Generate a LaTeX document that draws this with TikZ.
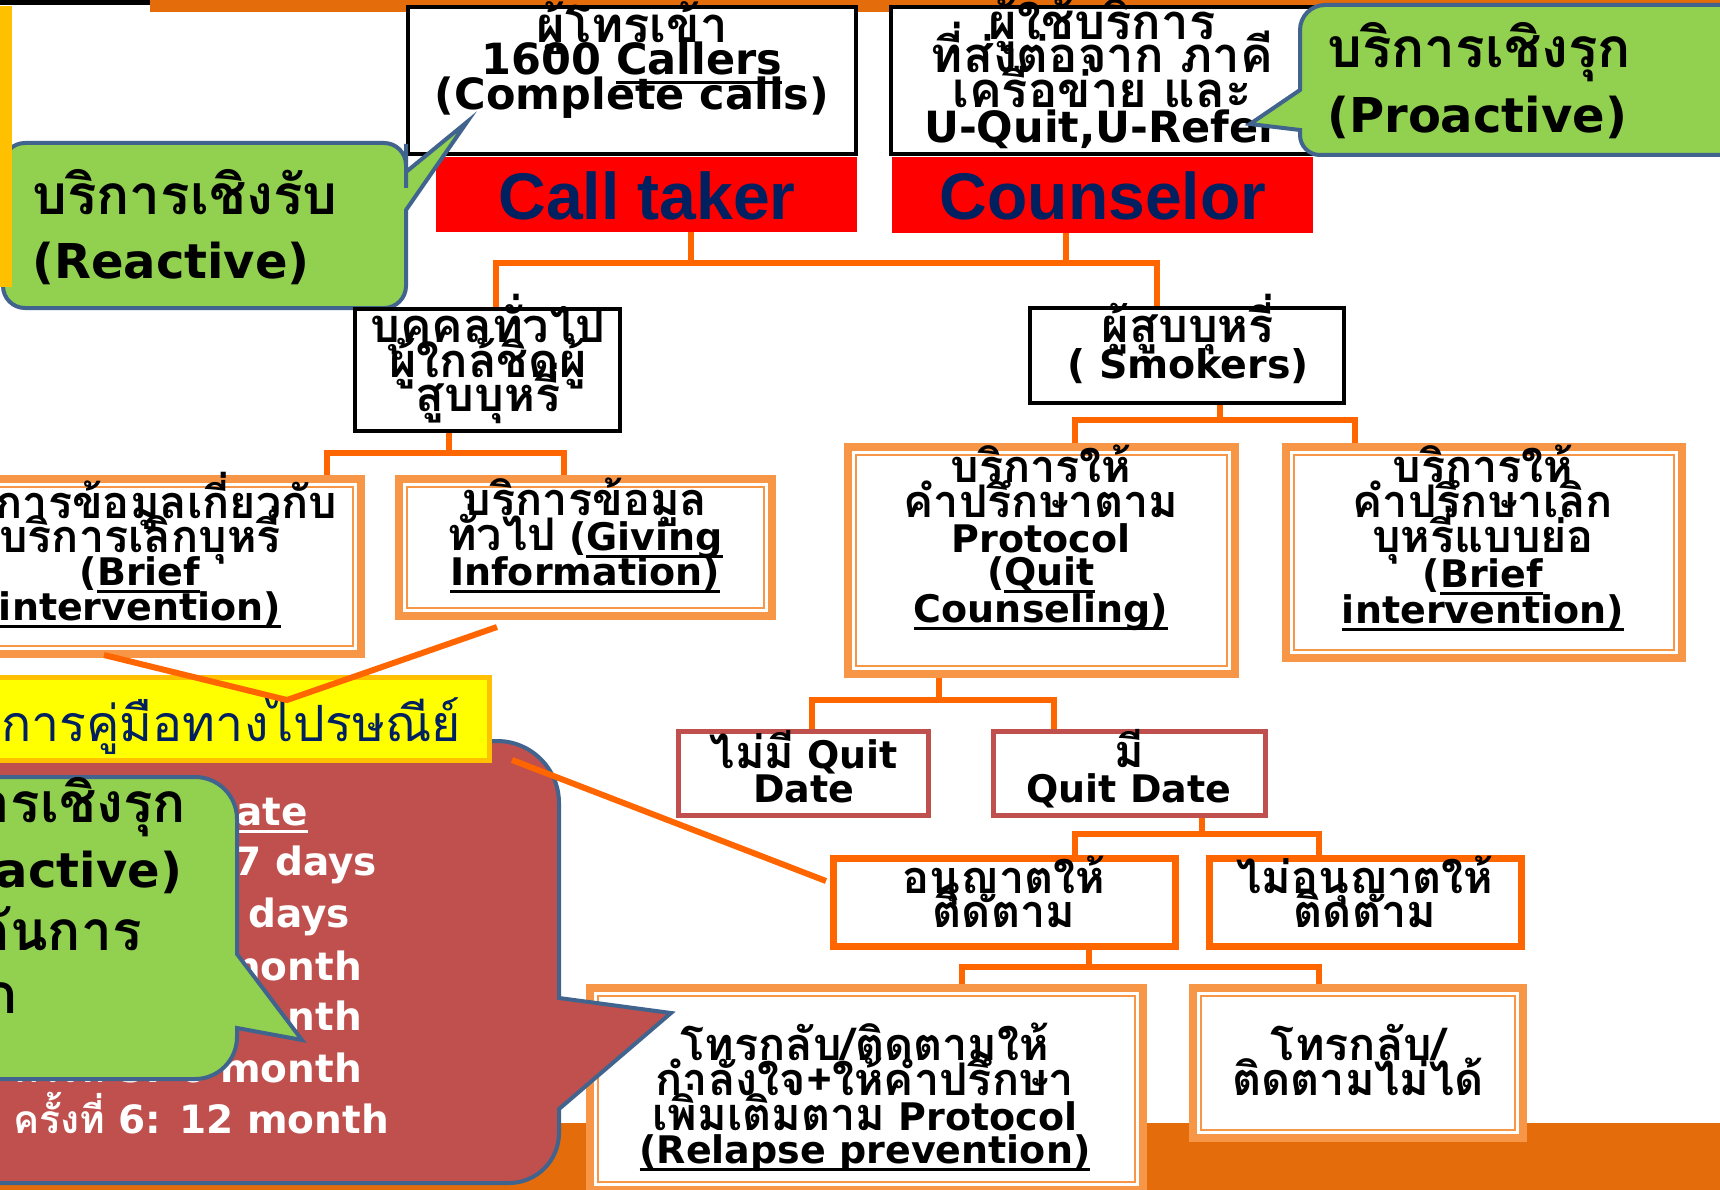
\documentclass[tikz,border=0pt]{standalone}
\usepackage{fontspec}
\setmainfont{DejaVu Sans}
\newfontfamily\thai[Script=Thai]{Loma}
\newfontfamily\arialf{Liberation Sans}
\def\thaisize{43pt}
\newcommand\T[1]{{\thai\fontsize{\thaisize}{\thaisize}\selectfont #1}}
\newcommand\ul[1]{\setbox0\hbox{#1}\rlap{\rule[-0.2em]{\wd0}{2.5pt}}\box0}
\usetikzlibrary{calc}
\definecolor{conorg}{HTML}{FF6600}
\definecolor{topor}{HTML}{E46C0A}
\definecolor{dorg}{HTML}{F79646}
\definecolor{qred}{HTML}{C0504D}
\definecolor{cgreen}{HTML}{92D050}
\definecolor{cblue}{HTML}{41648F}
\definecolor{navy}{HTML}{002060}
\definecolor{leftbar}{HTML}{FFC000}
\definecolor{yelfill}{HTML}{FFFF00}
% box: name, style, x1, y1, x2, y2, half line width
\newcommand\bx[7]{\node[#2, minimum width={#5-#3-2*#7}, minimum height={#6-#4-2*#7}] (#1) at ({(#3+#5)/2},{(#4+#6)/2}) {};}
\newcommand\inl[1]{\draw[draw=dorg, line width=2pt] ($(#1.north west)+(12,12)$) rectangle ($(#1.south east)+(-12,-12)$);}
\begin{document}
\begin{tikzpicture}[x=1pt,y=-1pt,
  conn/.style={draw=conorg,line width=6pt},
  blackbox/.style={draw=black,line width=4pt,fill=white,inner sep=0pt},
  redbar/.style={fill=red,inner sep=0pt},
  dbox/.style={draw=dorg,line width=8pt,fill=white,inner sep=0pt},
  qbox/.style={draw=qred,line width=5pt,fill=white,inner sep=0pt},
  obox/.style={draw=conorg,line width=7pt,fill=white,inner sep=0pt},
  ybx/.style={draw=leftbar,line width=5pt,fill=yelfill,inner sep=0pt},
  callg/.style={fill=cgreen,draw=cblue,line width=4pt},
  callr/.style={fill=qred,draw=cblue,line width=4pt},
  btop/.style={font={\def\thaisize{49pt}\fontsize{43}{43}\selectfont\bfseries},inner sep=0pt,anchor=base},
  bmid/.style={font={\def\thaisize{47pt}\fontsize{39.5}{40}\selectfont\bfseries},inner sep=0pt,anchor=base},
  blow/.style={font={\def\thaisize{45pt}\fontsize{38}{38}\selectfont\bfseries},inner sep=0pt,anchor=base},
  ctxt/.style={font={\def\thaisize{55pt}\fontsize{48}{48}\selectfont\bfseries},inner sep=0pt,anchor=base west},
  rtxt/.style={font={\def\thaisize{39pt}\fontsize{39}{39}\selectfont\bfseries},text=white,inner sep=0pt,anchor=base east},
  bartxt/.style={font={\arialf\fontsize{66}{66}\selectfont\bfseries},text=navy,inner sep=0pt,anchor=base}]
\useasboundingbox (0,0) rectangle (1720,1190);
\clip (0,0) rectangle (1720,1190);
\fill[white] (0,0) rectangle (1720,1190);
\fill[topor] (150,0) rectangle (1720,12);
\fill[black] (0,0) rectangle (150,5);
\fill[topor] (0,1123) rectangle (1720,1190);

% top boxes
\bx{b1}{blackbox}{406}{5}{858}{156}{2}
\node[btop] (b1a) at (632,43) {\T{ผู้โทรเข้า}};
\node[btop] (b1b) at (632,75) {1600 \ul{Callers}};
\node[btop] (b1c) at (632,110) {(Complete calls)};
\bx{b2}{blackbox}{889}{5}{1316}{156}{2}
\node[btop] (b2a) at (1102,40) {\T{ผู้ใช้บริการ}};
\node[btop] (b2b) at (1102,73) {\T{ที่ส่งต่อจาก ภาคี}};
\node[btop] (b2c) at (1102,108) {\T{เครือข่าย และ}};
\node[btop] (b2d) at (1102,143) {U-Quit,U-Refer};
\bx{ct}{redbar}{436}{157}{857}{232}{0}
\node[bartxt] (ctt) at (647,220) {Call taker};
\bx{co}{redbar}{892}{157}{1313}{233}{0}
\node[bartxt] (cot) at (1103,220) {Counselor};

% proactive callout
\draw[callg] (1500,5) [rounded corners=25] -- (1300,5) -- (1300,60) [sharp corners] -- (1300,90) -- (1250,124) -- (1300,130) -- (1300,133) [rounded corners=20] -- (1300,155) -- (1740,155) -- (1740,5) -- cycle;
\node[ctxt] (pa) at (1327,68) {\T{บริการเชิงรุก}};
\node[ctxt] (pb) at (1327,133) {(Proactive)};
% reactive callout
\draw[callg] (200,143) [rounded corners=22] -- (406,143) -- (406,166) [sharp corners] -- (406,172) -- (467,122) -- (406,210) -- (406,218) [rounded corners=22] -- (406,308) -- (3,308) -- (3,143) -- cycle;
\node[ctxt] (ra) at (32,215) {\T{บริการเชิงรับ}};
\node[ctxt] (rb) at (32,278) {(Reactive)};
\fill[fill=leftbar] (0,6) rectangle (12,287);

% second level
\bx{gen}{blackbox}{353}{307}{622}{433}{2}
\node[bmid] (gena) at (488,342) {\T{บุคคลทั่วไป}};
\node[bmid] (genb) at (488,377) {\T{ผู้ใกล้ชิดผู้}};
\node[bmid] (genc) at (488,411) {\T{สูบบุหรี่}};
\bx{smk}{blackbox}{1028}{306}{1346}{405}{2}
\node[bmid] (smka) at (1188,342) {\T{ผู้สูบบุหรี่}};
\node[bmid] (smkb) at (1188,378) {( Smokers)};

\coordinate (ja) at (691,263);
\coordinate (jb) at (1066,263);
\coordinate (jl) at (496,263);
\coordinate (jr) at (1157,263);
\draw[conn] (ct.south -| ja) -- (ja);
\draw[conn] (co.south -| jb) -- (jb);
\draw[conn] (gen.north -| jl) -- (jl) -- (jr) -- (smk.north -| jr);

% third level
\bx{brf1}{dbox}{-85}{475}{365}{658}{4}\inl{brf1}
\node[blow] (brf1a) at (140,518) {\T{บริการข้อมูลเกี่ยวกับ}};
\node[blow] (brf1b) at (140,552) {\T{บริการเลิกบุหรี่}};
\node[blow] (brf1c) at (140,585) {(\ul{Brief}};
\node[blow] (brf1d) at (140,620) {\ul{intervention)}};
\bx{giv}{dbox}{395}{475}{776}{620}{4}\inl{giv}
\node[blow] (giva) at (585,515) {\T{บริการข้อมูล}};
\node[blow] (givb) at (585,550) {\T{ทั่วไป} (\ul{Giving}};
\node[blow] (givc) at (585,585) {\ul{Information)}};
\bx{qc}{dbox}{844}{443}{1239}{678}{4}\inl{qc}
\node[blow] (qca) at (1041,482) {\T{บริการให้}};
\node[blow] (qcb) at (1041,517) {\T{คำปรึกษาตาม}};
\node[blow] (qcc) at (1041,552) {Protocol};
\node[blow] (qcd) at (1041,585) {(\ul{Quit}};
\node[blow] (qce) at (1041,622) {\ul{Counseling)}};
\bx{brf2}{dbox}{1282}{443}{1686}{662}{4}\inl{brf2}
\node[blow] (brf2a) at (1483,482) {\T{บริการให้}};
\node[blow] (brf2b) at (1483,517) {\T{คำปรึกษาเลิก}};
\node[blow] (brf2c) at (1483,552) {\T{บุหรี่แบบย่อ}};
\node[blow] (brf2d) at (1483,587) {(\ul{Brief}};
\node[blow] (brf2e) at (1483,623) {\ul{intervention)}};

\coordinate (gj) at (449,453);
\coordinate (gl) at (327,453);
\coordinate (gr) at (564,453);
\draw[conn] (gen.south -| gj) -- (gj);
\draw[conn] (brf1.north -| gl) -- (gl) -- (gr) -- (giv.north -| gr);
\coordinate (sj) at (1220,420);
\coordinate (sl) at (1075,420);
\coordinate (sr) at (1355,420);
\draw[conn] (smk.south -| sj) -- (sj);
\draw[conn] (qc.north -| sl) -- (sl) -- (sr) -- (brf2.north -| sr);

% quit date level
\bx{nqd}{qbox}{676}{729}{931}{818}{2.5}
\node[blow] (nqda) at (804,768) {\T{ไม่มี} Quit};
\node[blow] (nqdb) at (804,802) {Date};
\bx{qd}{qbox}{991}{729}{1268}{818}{2.5}
\node[blow] (qda) at (1129,767) {\T{มี}};
\node[blow] (qdb) at (1129,802) {Quit Date};
\coordinate (qj) at (939,700);
\coordinate (ql) at (812,700);
\coordinate (qr) at (1054,700);
\draw[conn] (qc.south -| qj) -- (qj);
\draw[conn] (nqd.north -| ql) -- (ql) -- (qr) -- (qd.north -| qr);

\bx{alw}{obox}{830}{855}{1179}{950}{3.5}
\node[blow] (alwa) at (1004,893) {\T{อนุญาตให้}};
\node[blow] (alwb) at (1004,927) {\T{ติดตาม}};
\bx{nalw}{obox}{1206}{855}{1525}{950}{3.5}
\node[blow] (nalwa) at (1365,893) {\T{ไม่อนุญาตให้}};
\node[blow] (nalwb) at (1365,927) {\T{ติดตาม}};
\coordinate (aj) at (1202,834);
\coordinate (al) at (1075,834);
\coordinate (ar) at (1319,834);
\draw[conn] (qd.south -| aj) -- (aj);
\draw[conn] (alw.north -| al) -- (al) -- (ar) -- (nalw.north -| ar);

\bx{rel}{dbox}{586}{984}{1147}{1194}{4}\inl{rel}
\node[blow] (rela) at (865,1060) {\T{โทรกลับ/ติดตามให้}};
\node[blow] (relb) at (865,1095) {\T{กำลังใจ+ให้คำปรึกษา}};
\node[blow] (relc) at (865,1130) {\T{เพิ่มเติมตาม} Protocol};
\node[blow] (reld) at (865,1163) {\ul{(Relapse prevention)}};
\bx{cant}{dbox}{1189}{984}{1527}{1142}{4}\inl{cant}
\node[blow] (canta) at (1358,1060) {\T{โทรกลับ/}};
\node[blow] (cantb) at (1358,1095) {\T{ติดตามไม่ได้}};
\coordinate (rj) at (1089,967);
\coordinate (rl) at (962,967);
\coordinate (rr) at (1319,967);
\draw[conn] (alw.south -| rj) -- (rj);
\draw[conn] (rel.north -| rl) -- (rl) -- (rr) -- (cant.north -| rr);

% red callout
\draw[callr] (-120,900) [rounded corners=62] -- (-120,741) -- (559,741) -- (559,900) [sharp corners] -- (559,998) -- (671,1013) -- (559,1109) -- (559,1115) [rounded corners=50] -- (559,1183) -- (-120,1183) -- cycle;
\node[rtxt] (r1) at (308,825) {\ul{Quit Date}};
\node[rtxt] (r2) at (377,875) {\T{ครั้งที่} 1: 7 days};
\node[rtxt] (r3) at (350,927) {\T{ครั้งที่} 2: 14 days};
\node[rtxt] (r4) at (362,980) {\T{ครั้งที่} 3: 1 month};
\node[rtxt] (r5) at (362,1030) {\T{ครั้งที่} 4: 3 month};
\node[rtxt] (r6) at (362,1082) {\T{ครั้งที่} 5: 6 month};
\node[rtxt] (r7) at (389,1133) {\T{ครั้งที่} 6: 12 month};

% yellow mail box
\bx{mail}{ybx}{-10}{675}{492}{763}{2.5}
\node[font={\thai\fontsize{50}{50}\selectfont}, text=navy, inner sep=0pt, anchor=base east] (mailt) at (461,741) {บริการคู่มือทางไปรษณีย์};

% green bottom callout
\draw[callg] (-120,900) [rounded corners=42] -- (-120,777) -- (237,777) -- (237,900) [sharp corners] -- (237,954) -- (302,1040) -- (237,1028) -- (237,1030) [rounded corners=42] -- (237,1079) -- (-120,1079) -- cycle;
\node[ctxt] (ga) at (-118,822) {\T{บริการเชิงรุก}};
\node[ctxt] (gb) at (-118,887) {(Proactive)};
\node[ctxt] (gc) at (-118,950) {\T{ป้องกันการ}};
\node[ctxt, anchor=base east] (gd) at (18,1013) {\T{ก}};

% connectors to mail box
\coordinate (va) at (104,655);
\coordinate (vm) at (287,700);
\coordinate (vb) at (497,627);
\draw[conn] (va) -- (vm) -- (vb);
\coordinate (ma) at (512,760);
\coordinate (mb) at (826,881);
\draw[conn] (ma) -- (mb);
\end{tikzpicture}
\end{document}
